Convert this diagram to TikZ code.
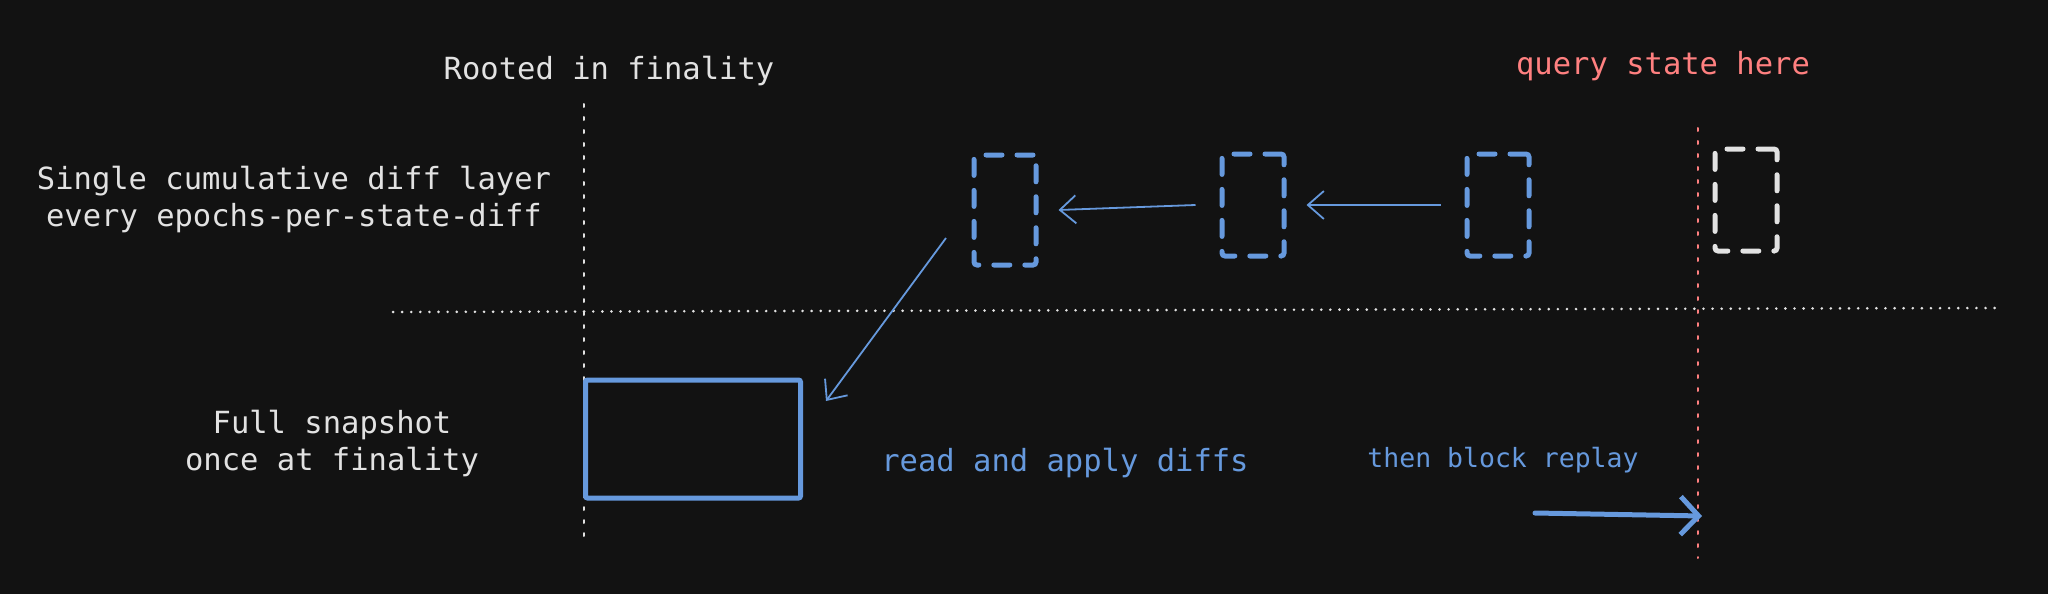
\documentclass[tikz,border=0pt]{standalone}
\usepackage{fontspec}
\setmonofont{DejaVu Sans Mono}
\usetikzlibrary{arrows.meta}
\definecolor{bg}{HTML}{121212}
\definecolor{fg}{HTML}{E2E2E2}
\definecolor{bl}{HTML}{6699DD}
\definecolor{rd}{HTML}{FF8080}
\tikzset{
  lbl/.style={font=\ttfamily\fontsize{30.5}{37}\selectfont, align=center, inner sep=0pt},
  dbox/.style={draw=bl, line width=5pt, line cap=round, rounded corners=3pt, dash pattern=on 16pt off 15pt, minimum width=62pt, minimum height=102pt, inner sep=0pt},
  thin/.style={draw=bl, line width=1.8pt, -{Straight Barb[length=16pt,width=28pt,line width=1.8pt]}},
  thick/.style={draw=bl, line width=5pt, line cap=round, -{Straight Barb[length=18pt,width=38pt,line width=5pt]}},
  wdots/.style={draw=fg, line width=2.8pt, line cap=round, dash pattern=on 0.1pt off 9pt},
  rdots/.style={draw=rd, line width=2pt, line cap=round, dash pattern=on 3pt off 10pt},
}
\begin{document}
\begin{tikzpicture}[x=1pt,y=-1pt]
\fill[bg] (0,0) rectangle (2048,594);
\useasboundingbox (0,0) rectangle (2048,594);
% guide lines
\coordinate (vt) at (584,104);
\coordinate (vb) at (584,537);
\draw[wdots, line width=2pt, dash pattern=on 3pt off 10pt] (vt) -- (vb);
\coordinate (hl) at (393,312);
\coordinate (hr) at (1998,308);
\draw[wdots] (hl) -- (hr);
\coordinate (rt) at (1698,128);
\coordinate (rb) at (1698,558);
\draw[rdots] (rt) -- (rb);
% texts
\node[lbl, text=fg] (rooted) at (609,71) {Rooted in finality};
\node[lbl, text=rd] (query) at (1663,66) {query state here};
\node[lbl, text=fg] (single) at (294,200) {Single cumulative diff layer\\every epochs-per-state-diff};
\node[lbl, text=fg] (fullsnap) at (332,443) {Full snapshot\\once at finality};
\node[lbl, text=bl] (read) at (1065,463) {read and apply diffs};
\node[lbl, text=bl, font=\ttfamily\fontsize{26.5}{32}\selectfont] (then) at (1503,460) {then block replay};
% diff boxes
\node[dbox, minimum height=110pt] (d1) at (1005,210) {};
\node[dbox] (d2) at (1253,205) {};
\node[dbox] (d3) at (1498,205) {};
\node[dbox, draw=fg] (d4) at (1746,200) {};
% snapshot
\node[draw=bl, line width=5pt, minimum width=215pt, minimum height=118pt, inner sep=0pt, rounded corners=2pt] (snap) at (693,439) {};
% arrows
\draw[thin] ([xshift=-24pt]d3.west) -- ([xshift=20pt]d2.east);
\draw[thin] ([xshift=-24pt]d2.west) -- ([xshift=20pt]d1.east);
\coordinate (a0) at (946,238);
\coordinate (a1) at (826,401);
\draw[thin] (a0) -- (a1);
\coordinate (t0) at (1535,513);
\coordinate (t1) at (1702,516);
\draw[thick] (t0) -- (t1);
\end{tikzpicture}
\end{document}
